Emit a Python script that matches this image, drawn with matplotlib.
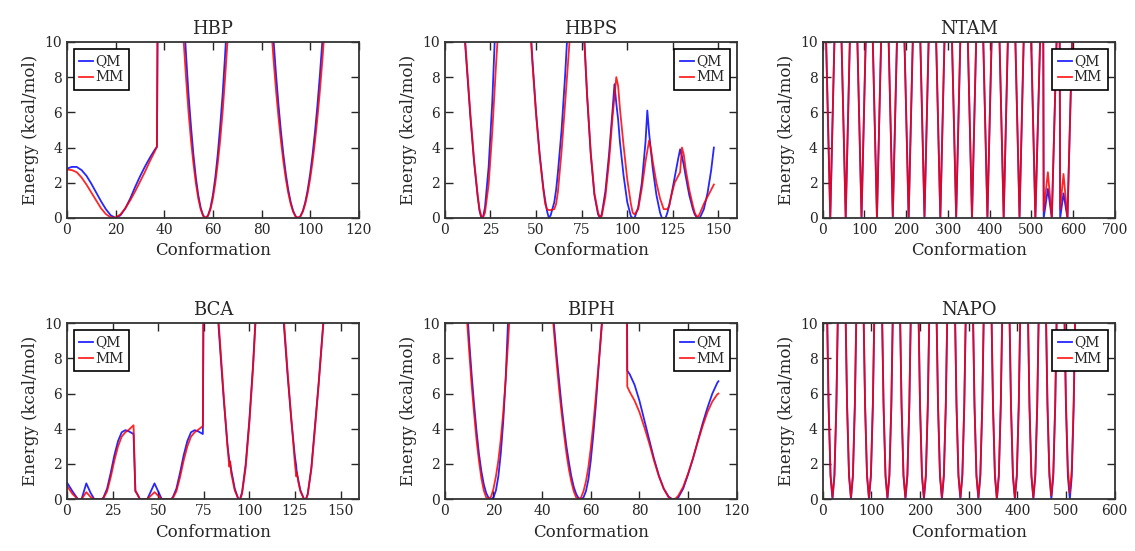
import matplotlib.pyplot as plt

plt.rcParams['font.family'] = 'DejaVu Serif'
plt.rcParams['text.color'] = '#262626'
plt.rcParams['axes.labelcolor'] = '#262626'
plt.rcParams['xtick.color'] = '#262626'
plt.rcParams['ytick.color'] = '#262626'

# HBP
hbp_x = [0, 2, 4, 6, 8, 10, 12, 14, 16, 18, 20, 22, 24, 26, 28, 30, 32, 34, 36, 37,
         38, 47, 48, 49, 50, 51, 52, 53, 54, 55, 56, 57, 58, 59, 60, 61, 62, 63, 64, 65, 66, 67,
         75, 84, 85, 86, 87, 88, 89, 90, 91, 92, 93, 94, 95, 96, 97, 98, 99, 100,
         101, 102, 103, 104, 105, 106, 107, 108]
hbp_qm = [2.8, 2.9, 2.9, 2.72, 2.4, 1.95, 1.45, 0.95, 0.5, 0.15, 0.0, 0.15, 0.55, 1.1, 1.75, 2.35, 2.9, 3.4, 3.85, 4.05,
          30, 14.3, 11.6, 9.2, 7.0, 5.2, 3.6, 2.3, 1.3, 0.57, 0.14, 0.0, 0.14, 0.57, 1.3, 2.3, 3.6, 5.2, 7.0, 9.2, 11.6, 14.3,
          30, 12.1, 10.0, 8.1, 6.4, 4.9, 3.6, 2.5, 1.6, 0.9, 0.4, 0.1, 0.0, 0.1, 0.4, 0.9, 1.6, 2.5,
          3.6, 4.9, 6.4, 8.1, 10.0, 12.1, 14.4, 16.9]
hbp_mm = [2.75, 2.72, 2.6, 2.3, 1.9, 1.45, 1.0, 0.55, 0.22, 0.03, 0.03, 0.2, 0.55, 1.0, 1.5, 2.05, 2.6, 3.2, 3.75, 4.05,
          30, 12.3, 10.0, 7.9, 6.0, 4.4, 3.1, 1.98, 1.1, 0.49, 0.12, 0.0, 0.12, 0.49, 1.1, 1.98, 3.1, 4.4, 6.0, 7.9, 10.0, 12.3,
          30, 10.8, 8.9, 7.2, 5.7, 4.36, 3.2, 2.22, 1.42, 0.8, 0.36, 0.09, 0.0, 0.09, 0.36, 0.8, 1.42, 2.22,
          3.2, 4.36, 5.7, 7.2, 8.9, 10.8, 12.8, 15.0]

# HBPS
hbps_x = [0, 8, 10, 12, 14, 16, 18, 19, 20, 21, 22, 24, 26, 28, 29, 30, 38,
          46, 48, 50, 52, 54, 55, 56, 57, 58, 60, 61, 62, 64, 66, 68, 69, 72,
          75, 76, 78, 80, 82, 84, 85, 86, 88, 90, 92, 93, 94, 95, 96, 98, 100,
          102, 103, 104, 106, 108, 110, 111, 112, 113, 114, 116, 118, 119, 120,
          121, 122, 123, 124, 126, 128, 129, 130, 131, 132, 134, 136, 137, 138,
          139, 140, 142, 144, 146, 147.5]
hbps_qm = [40, 15, 11.5, 8.6, 5.7, 3.2, 1.2, 0.4, 0.0, 0.1, 0.6, 2.9, 6.6, 11.8, 14.5, 18, 40,
           12.5, 9.0, 6.0, 3.6, 1.7, 1.0, 0.4, 0.0, 0.15, 0.9, 1.6, 2.6, 5.0, 8.2, 12.0, 14, 30,
           14, 11.0, 6.9, 3.6, 1.3, 0.2, 0.0, 0.2, 1.5, 3.6, 6.2, 7.6, 6.5, 5.6, 4.3, 2.4, 0.9,
           0.1, 0.0, 0.0, 0.6, 2.0, 4.3, 6.1, 4.8, 3.8, 2.8, 1.3, 0.3, 0.0, 0.0,
           0.0, 0.3, 0.7, 1.2, 2.3, 3.4, 3.9, 3.5, 3.0, 2.4, 1.3, 0.5, 0.2, 0.05,
           0.0, 0.05, 0.5, 1.4, 2.7, 4.0]
hbps_mm = [40, 15, 11.8, 8.8, 5.9, 3.3, 1.3, 0.5, 0.1, 0.05, 0.3, 1.9, 4.9, 8.6, 10.3, 13, 40,
           12.2, 8.8, 5.9, 3.5, 1.6, 0.8, 0.5, 0.45, 0.45, 0.5, 0.8, 1.5, 3.8, 6.6, 9.5, 11.0, 30,
           14, 11.2, 7.0, 3.7, 1.4, 0.3, 0.05, 0.1, 1.2, 3.2, 5.8, 6.9, 8.0, 7.5, 6.2, 4.1, 2.2,
           0.8, 0.3, 0.2, 0.5, 1.7, 3.2, 3.8, 4.4, 3.9, 3.2, 2.0, 1.1, 0.8, 0.5,
           0.5, 0.5, 0.7, 1.2, 2.0, 2.4, 2.6, 4.0, 3.6, 2.8, 1.6, 0.7, 0.3, 0.1,
           0.1, 0.3, 0.8, 1.2, 1.6, 1.9]

# NTAM
ntam_x = [0, 7, 18, 29, 37, 44, 55, 66, 74, 82, 93, 104, 112, 119, 130, 141, 149,
          157, 168, 179, 187, 195, 206, 217, 225, 233, 244, 255, 263, 271, 282, 293, 301,
          309, 320, 331, 339, 347, 358, 369, 377, 384, 395, 406, 415, 423, 434, 445, 453,
          461, 472, 483, 491, 499, 510, 523, 527, 530, 540, 549.5, 562, 566, 569.5, 577.5,
          587, 599, 605]
ntam_qm = [30, 11, 0, 11, 30, 11, 0, 11, 30, 11, 0, 11, 30, 11, 0, 11, 30,
           11, 0, 11, 30, 11, 0, 11, 30, 11, 0, 11, 30, 11, 0, 11, 30,
           11, 0, 11, 30, 11, 0, 11, 30, 11, 0, 11, 30, 11, 0, 11, 30,
           11, 0, 11, 30, 11, 0, 11.5, 30, 0.0, 1.65, 0.0, 11, 30, 0.0, 1.4,
           0.0, 10.8, 20]
ntam_mm = [30, 11.2, 0, 11.2, 30, 11.2, 0, 11.2, 30, 11.2, 0.1, 11.2, 30, 11.2, 0, 11.2, 30,
           11.2, 0.1, 11.2, 30, 11.2, 0, 11.2, 30, 11.2, 0.1, 11.2, 30, 11.2, 0, 11.2, 30,
           11.2, 0.1, 11.2, 30, 11.2, 0, 11.2, 30, 11.2, 0.1, 11.2, 30, 11.2, 0, 11.2, 30,
           11.2, 0.1, 11.2, 30, 11.2, 0, 11.5, 30, 0.4, 2.6, 0.0, 11, 30, 0.5, 2.5,
           0.0, 10.8, 20]

# BCA
bca_x = [0, 3, 6, 8, 10.6, 13, 15, 19, 20, 22, 24, 26, 28, 30, 32, 34, 36.5, 37.5, 38.5, 40,
         44, 48, 52, 57, 58, 60, 62, 64, 66, 68, 70, 72, 74.5, 75, 80, 82, 83, 84, 86, 88,
         89, 89.5, 90, 92, 94, 95, 96, 98, 100, 102, 103, 104, 110, 117, 118, 119, 121, 123,
         125, 125.7, 126, 127, 128, 130, 131, 132, 134, 136, 138, 140, 141, 142]
bca_qm = [0.95, 0.45, 0.0, 0.0, 0.9, 0.35, 0.0, 0.0, 0.1, 0.6, 1.5, 2.5, 3.3, 3.8, 3.92, 3.85, 3.7, 0.45, 0.3, 0.0,
          0.0, 0.9, 0.0, 0.0, 0.1, 0.6, 1.5, 2.5, 3.3, 3.8, 3.92, 3.85, 3.7, 14, 20, 11.5, 10.0, 8.5, 5.6, 3.1,
          2.2, 2.0, 1.7, 0.6, 0.0, 0.05, 0.4, 2.0, 4.5, 7.6, 9.5, 11.5, 30, 12.5, 11.2, 9.8, 7.0, 4.5,
          2.4, 1.9, 1.5, 1.0, 0.5, 0.0, 0.0, 0.3, 1.8, 4.2, 6.6, 9.3, 10.6, 12]
bca_mm = [0.75, 0.3, 0.0, 0.0, 0.4, 0.12, 0.0, 0.0, 0.05, 0.45, 1.25, 2.2, 3.0, 3.55, 3.8, 3.95, 4.2, 0.5, 0.3, 0.0,
          0.0, 0.4, 0.0, 0.0, 0.05, 0.45, 1.25, 2.2, 3.0, 3.55, 3.8, 3.95, 4.15, 14, 20, 11.8, 10.3, 8.8, 5.8, 3.0,
          1.85, 2.15, 1.5, 0.5, 0.0, 0.0, 0.3, 1.8, 4.3, 7.4, 9.3, 11.3, 30, 12.8, 11.5, 10.1, 7.2, 4.6,
          2.0, 1.3, 1.55, 0.9, 0.45, 0.0, 0.0, 0.25, 1.7, 4.0, 6.5, 9.2, 10.5, 12]

# BIPH
biph_x = [0, 8, 9, 10, 11, 12, 13, 14, 15, 16, 17, 18, 19, 20, 21, 22, 23, 24, 25, 26, 27, 28, 36,
          43, 44, 45, 46, 47, 48, 49, 50, 51, 52, 53, 54, 55, 56, 57, 58, 59, 60, 61, 62, 63, 64, 65, 66,
          70, 74.5, 75, 76, 78, 80, 82, 84, 86, 88, 90, 92, 93.5, 94, 95, 96, 98, 100, 102, 104, 106,
          108, 110, 112, 112.5]
biph_qm = [40, 13.5, 11.2, 9.0, 7.1, 5.4, 3.9, 2.6, 1.6, 0.85, 0.35, 0.07, 0.0, 0.1, 0.5, 1.3, 2.6, 4.4, 6.8, 10.2, 14, 18, 40,
           13, 11.3, 9.7, 8.1, 6.7, 5.3, 4.1, 3.0, 2.1, 1.3, 0.7, 0.3, 0.05, 0.0, 0.1, 0.45, 1.1, 2.2, 3.6, 5.2, 7.1, 9.0, 10.9, 13,
           30, 30, 7.3, 7.1, 6.5, 5.6, 4.5, 3.4, 2.3, 1.35, 0.6, 0.15, 0.0, 0.0, 0.0, 0.1, 0.6, 1.4, 2.3, 3.3, 4.3,
           5.2, 6.0, 6.6, 6.7]
biph_mm = [40, 12.6, 10.4, 8.4, 6.5, 4.9, 3.4, 2.2, 1.2, 0.5, 0.1, 0.0, 0.15, 0.6, 1.3, 2.2, 3.4, 4.9, 6.8, 8.9, 11.3, 14, 40,
           12.8, 11.0, 9.3, 7.7, 6.2, 4.9, 3.7, 2.6, 1.7, 1.0, 0.45, 0.1, 0.0, 0.1, 0.45, 1.0, 1.8, 2.9, 4.2, 5.7, 7.3, 8.9, 10.6, 12.5,
           30, 30, 6.4, 6.1, 5.6, 4.95, 4.1, 3.2, 2.2, 1.3, 0.6, 0.1, 0.0, 0.0, 0.05, 0.2, 0.7, 1.45, 2.3, 3.25, 4.15,
           4.95, 5.55, 5.95, 6.0]

# NAPO
napo_x = [0,
          8, 12, 16, 20, 24, 28, 32,
          46, 50, 54, 58, 62, 66, 70,
          83, 87, 91, 95, 99, 103, 107,
          121, 125, 129, 133, 137, 141, 145,
          158, 162, 166, 170, 174, 178, 182,
          196, 200, 204, 208, 212, 216, 220,
          233, 237, 241, 245, 249, 253, 257,
          271, 275, 279, 283, 287, 291, 295,
          308, 312, 316, 320, 324, 328, 332,
          346, 350, 354, 358, 362, 366, 370,
          383, 387, 391, 395, 399, 403, 407,
          421, 425, 429, 433, 437, 441, 445,
          458, 462, 466, 470, 474, 478, 482,
          496, 500, 504, 508, 512, 516, 520,
          526]
napo_qm = [40,
           12.0, 5.3, 1.3, 0.0, 1.3, 5.3, 12.0,
           12.0, 5.3, 1.3, 0.0, 1.3, 5.3, 12.0,
           12.0, 5.3, 1.3, 0.0, 1.3, 5.3, 12.0,
           12.0, 5.3, 1.3, 0.0, 1.3, 5.3, 12.0,
           12.0, 5.3, 1.3, 0.0, 1.3, 5.3, 12.0,
           12.0, 5.3, 1.3, 0.0, 1.3, 5.3, 12.0,
           12.0, 5.3, 1.3, 0.0, 1.3, 5.3, 12.0,
           12.0, 5.3, 1.3, 0.0, 1.3, 5.3, 12.0,
           12.0, 5.3, 1.3, 0.0, 1.3, 5.3, 12.0,
           12.0, 5.3, 1.3, 0.0, 1.3, 5.3, 12.0,
           12.0, 5.3, 1.3, 0.0, 1.3, 5.3, 12.0,
           12.0, 5.3, 1.3, 0.0, 1.3, 5.3, 12.0,
           12.0, 5.3, 1.3, 0.0, 1.3, 5.3, 12.0,
           12.0, 5.3, 1.3, 0.0, 1.3, 5.3, 12.0,
           20]
napo_mm = [40,
           12.2, 5.4, 1.4, 0.12, 1.4, 5.4, 12.2,
           12.2, 5.4, 1.4, 0.12, 1.4, 5.4, 12.2,
           12.2, 5.4, 1.4, 0.12, 1.4, 5.4, 12.2,
           12.2, 5.4, 1.4, 0.12, 1.4, 5.4, 12.2,
           12.2, 5.4, 1.4, 0.12, 1.4, 5.4, 12.2,
           12.2, 5.4, 1.4, 0.12, 1.4, 5.4, 12.2,
           12.2, 5.4, 1.4, 0.12, 1.4, 5.4, 12.2,
           12.2, 5.4, 1.4, 0.12, 1.4, 5.4, 12.2,
           12.2, 5.4, 1.4, 0.12, 1.4, 5.4, 12.2,
           12.2, 5.4, 1.4, 0.0, 1.4, 5.4, 12.2,
           12.2, 5.4, 1.4, 0.12, 1.4, 5.4, 12.2,
           12.2, 5.4, 1.4, 0.12, 1.4, 5.4, 12.2,
           12.2, 5.5, 1.5, 0.2, 1.5, 5.5, 12.2,
           12.2, 5.6, 1.7, 0.35, 1.7, 5.6, 12.2,
           20]

panels = [
    ("HBP", hbp_x, hbp_qm, hbp_mm, 120, "upper left"),
    ("HBPS", hbps_x, hbps_qm, hbps_mm, 160, "upper right"),
    ("NTAM", ntam_x, ntam_qm, ntam_mm, 700, "upper right"),
    ("BCA", bca_x, bca_qm, bca_mm, 160, "upper left"),
    ("BIPH", biph_x, biph_qm, biph_mm, 120, "upper right"),
    ("NAPO", napo_x, napo_qm, napo_mm, 600, "upper right"),
]

fig, axes = plt.subplots(2, 3, figsize=(11.35, 5.51), dpi=100)
fig.subplots_adjust(left=0.059, right=0.982, top=0.924, bottom=0.094, wspace=0.295, hspace=0.597)

for ax, (name, x, qm, mm, xmax, loc) in zip(axes.flat, panels):
    ax.plot(x, qm, color="b", lw=1.3, alpha=0.85, label="QM")
    ax.plot(x, mm, color="r", lw=1.3, alpha=0.85, label="MM")
    ax.set_xlim(0, xmax)
    ax.set_ylim(0, 10)
    ax.set_title(name, fontsize=13)
    ax.set_xlabel("Conformation", fontsize=12)
    ax.set_ylabel("Energy (kcal/mol)", fontsize=12)
    ax.tick_params(direction="in", top=True, right=True, length=6, width=1, labelsize=10)
    for s in ax.spines.values():
        s.set_linewidth(1.3)
        s.set_color("#333333")
    leg = ax.legend(loc=loc, fontsize=10, handlelength=1.0, handletextpad=0.15,
                    fancybox=False, framealpha=1, edgecolor="black",
                    borderpad=0.4, labelspacing=0.15, borderaxespad=0.5)
    leg.get_frame().set_linewidth(1.2)

fig.savefig("out.png", dpi=100)
